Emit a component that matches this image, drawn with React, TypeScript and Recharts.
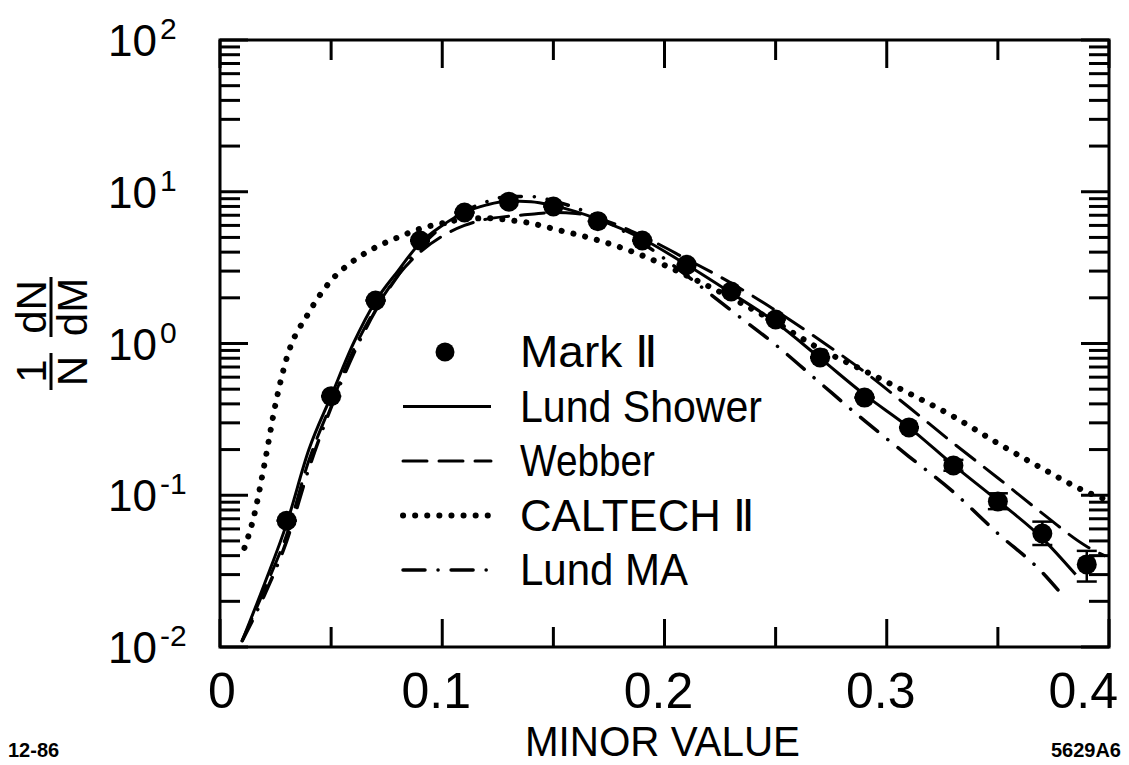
import React from "react";
import { ComposedChart, Line, Scatter, ErrorBar, XAxis, YAxis, ReferenceArea, Legend } from "recharts";

const FONT = "'Liberation Sans', Arial, sans-serif";
const PLOT_W = 889;
const PLOT_H = 607;

// Mark II measurements
const markX = [0.03, 0.05, 0.07, 0.09, 0.11, 0.13, 0.15, 0.17, 0.19, 0.21, 0.23, 0.25, 0.27, 0.29, 0.31, 0.33, 0.35, 0.37, 0.39];
const markY = [0.068, 0.45, 1.92, 4.77, 7.3, 8.6, 8.0, 6.4, 4.77, 3.3, 2.2, 1.44, 0.81, 0.44, 0.28, 0.157, 0.091, 0.056, 0.035];
const markErrLow = [0, 0, 0, 0, 0, 0, 0, 0, 0, 0, 0, 0, 0, 0, 0, 0.012, 0.01, 0.009, 0.008];
const markErrHigh = [0, 0, 0, 0, 0, 0, 0, 0, 0, 0, 0, 0, 0, 0, 0, 0.014, 0.012, 0.011, 0.008];

// Lund Shower (solid)
const showerX = [0.01, 0.02, 0.03, 0.04, 0.05, 0.06, 0.07, 0.08, 0.09, 0.1, 0.11, 0.12, 0.13, 0.14, 0.15, 0.17, 0.19, 0.21, 0.23, 0.25, 0.27, 0.29, 0.31, 0.33, 0.35, 0.37, 0.385];
const showerY = [0.011, 0.026, 0.065, 0.2, 0.45, 1.0, 1.9, 3.0, 4.6, 6.0, 7.3, 8.2, 8.7, 8.6, 8.1, 6.6, 4.9, 3.3, 2.15, 1.38, 0.8, 0.46, 0.28, 0.158, 0.092, 0.052, 0.03];

// Webber (dashed)
const webberX = [0.01, 0.02, 0.03, 0.04, 0.05, 0.06, 0.07, 0.08, 0.09, 0.1, 0.11, 0.12, 0.13, 0.14, 0.15, 0.16, 0.17, 0.19, 0.21, 0.23, 0.25, 0.27, 0.29, 0.31, 0.33, 0.35, 0.37, 0.39, 0.398];
const webberY = [0.011, 0.024, 0.055, 0.17, 0.4, 0.9, 1.7, 2.8, 4.0, 5.1, 6.0, 6.6, 6.9, 7.1, 7.3, 7.2, 6.7, 5.1, 3.6, 2.5, 1.65, 1.05, 0.65, 0.38, 0.22, 0.13, 0.076, 0.046, 0.04];

// CALTECH II (dotted)
const caltechX = [0.011, 0.015, 0.02, 0.025, 0.03, 0.04, 0.05, 0.06, 0.07, 0.08, 0.09, 0.1, 0.11, 0.12, 0.13, 0.14, 0.15, 0.17, 0.19, 0.21, 0.23, 0.25, 0.27, 0.29, 0.31, 0.33, 0.35, 0.37, 0.39, 0.4];
const caltechY = [0.045, 0.07, 0.16, 0.4, 0.8, 1.6, 2.6, 3.5, 4.3, 5.0, 5.7, 6.2, 6.6, 6.7, 6.5, 6.2, 5.7, 4.8, 3.8, 2.8, 2.0, 1.38, 0.92, 0.66, 0.47, 0.33, 0.22, 0.15, 0.105, 0.092];

// Lund MA (dash-dot)
const lundMaX = [0.01, 0.02, 0.03, 0.04, 0.05, 0.06, 0.07, 0.08, 0.09, 0.1, 0.11, 0.12, 0.13, 0.14, 0.15, 0.17, 0.19, 0.21, 0.23, 0.25, 0.27, 0.29, 0.31, 0.33, 0.35, 0.37, 0.379];
const lundMaY = [0.011, 0.022, 0.05, 0.15, 0.38, 0.85, 1.65, 2.8, 4.3, 5.9, 7.4, 8.6, 9.3, 9.3, 8.7, 6.8, 4.6, 2.8, 1.65, 0.98, 0.55, 0.31, 0.18, 0.105, 0.056, 0.031, 0.022];

const xTicks = [0, 0.05, 0.1, 0.15, 0.2, 0.25, 0.3, 0.35, 0.4];
const xLabels = ["0", "0.1", "0.2", "0.3", "0.4"];
const yDecades = [0.01, 0.1, 1, 10, 100];
const yMinorSteps = [2, 3, 4, 5, 6, 7, 8, 9];

const yTicks: number[] = [];
yDecades.forEach((d, i) => {
  yTicks.push(d);
  if (i < yDecades.length - 1) yMinorSteps.forEach((m) => yTicks.push(+(d * m).toPrecision(3)));
});

const toPoints = (xs: number[], ys: number[]) => xs.map((x, i) => ({ x, y: ys[i] }));
const markData = markX.map((x, i) => ({ x, y: markY[i], err: [markErrLow[i], markErrHigh[i]] }));
const showerData = toPoints(showerX, showerY);
const webberData = toPoints(webberX, webberY);
const caltechData = toPoints(caltechX, caltechY);
const lundMaData = toPoints(lundMaX, lundMaY);

const series = [
  { name: "Lund Shower", dash: undefined as string | undefined, width: 3 },
  { name: "Webber", dash: "24 12", width: 3 },
  { name: "CALTECH \u2161", dash: "0.1 12", width: 6 },
  { name: "Lund MA", dash: "22 13 0.1 13", width: 3.5 },
];

function XTick(props: any) {
  const { x, y, payload } = props;
  const v = payload.value as number;
  const major = Math.abs(v * 10 - Math.round(v * 10)) < 1e-6;
  const len = major ? 28 : 20;
  const label = major ? xLabels[Math.round(v * 10)] : null;
  let tx = x - 6;
  let anchor = "middle";
  if (v === 0) tx = x + 2;
  if (v === 0.4) { tx = x + 9; anchor = "end"; }
  return (
    <g>
      <line x1={x} y1={y} x2={x} y2={y - len} stroke="#000" strokeWidth={3} />
      <line x1={x} y1={y - PLOT_H} x2={x} y2={y - PLOT_H + len} stroke="#000" strokeWidth={3} />
      {label && (
        <text x={tx} y={y + 61} textAnchor={anchor} fontFamily={FONT} fontSize={50} fill="#000">
          {label}
        </text>
      )}
    </g>
  );
}

function YTick(props: any) {
  const { x, y, payload } = props;
  const v = payload.value as number;
  const lg = Math.log10(v);
  const major = Math.abs(lg - Math.round(lg)) < 1e-6;
  const len = major ? 28 : 20;
  return (
    <g>
      <line x1={x} y1={y} x2={x + len} y2={y} stroke="#000" strokeWidth={3} />
      <line x1={x + PLOT_W} y1={y} x2={x + PLOT_W - len} y2={y} stroke="#000" strokeWidth={3} />
      {major && (
        <g fontFamily={FONT} fill="#000">
          <text x={157} y={y + 16} textAnchor="end" fontSize={44}>10</text>
          <text x={160} y={y - 1} textAnchor="start" fontSize={30}>{String(Math.round(lg))}</text>
        </g>
      )}
    </g>
  );
}

function YTitle() {
  return (
    <g transform="translate(51, 335) rotate(-90)" fontFamily={FONT} fill="#000">
      <text x={-36} y={-5} textAnchor="middle" fontSize={42}>1</text>
      <line x1={-55} y1={0} x2={-18} y2={0} stroke="#000" strokeWidth={3} />
      <text x={-36} y={36} textAnchor="middle" fontSize={42}>N</text>
      <text x={28} y={-5} textAnchor="middle" fontSize={42}>dN</text>
      <line x1={-2} y1={0} x2={58} y2={0} stroke="#000" strokeWidth={3} />
      <text x={28} y={36} textAnchor="middle" fontSize={42}>dM</text>
    </g>
  );
}

function XTitle() {
  return (
    <g fontFamily={FONT} fill="#000">
      <text x={525} y={756} fontSize={42} textLength={275} lengthAdjust="spacingAndGlyphs">MINOR VALUE</text>
      <text x={8} y={757} fontSize={20} fontWeight="bold">12-86</text>
      <text x={1121} y={757} fontSize={20} fontWeight="bold" textAnchor="end">5629A6</text>
    </g>
  );
}

const legendWidths = [138, 242, 135, 235, 168];

function LegendBox() {
  const rows = ["Mark \u2161", ...series.map((s) => s.name)];
  return (
    <svg width={400} height={300} style={{ display: "block", overflow: "visible" }}>
      {rows.map((name, i) => {
        const cy = 30 + i * 54.5;
        const s = i > 0 ? series[i - 1] : null;
        return (
          <g key={name}>
            {s ? (
              <line x1={13} y1={cy} x2={101} y2={cy} stroke="#000" strokeWidth={s.width} strokeDasharray={s.dash} strokeLinecap={s.dash ? "round" : "butt"} />
            ) : (
              <circle cx={55} cy={cy} r={9.5} fill="#000" />
            )}
            <text x={130} y={cy + 15} fontFamily={FONT} fontSize={44} fill="#000" textLength={legendWidths[i]} lengthAdjust="spacingAndGlyphs">
              {name}
            </text>
          </g>
        );
      })}
    </svg>
  );
}

const lineData = [showerData, webberData, caltechData, lundMaData];

export default function App() {
  return (
    <div style={{ position: "absolute", left: 0, top: 0, background: "#fff" }}>
      <ComposedChart width={1129} height={765} margin={{ top: 40, right: 20, bottom: 0, left: 0 }}>
        <XAxis
          type="number"
          dataKey="x"
          domain={[0, 0.4]}
          ticks={xTicks}
          interval={0}
          height={118}
          tickSize={0}
          tickMargin={0}
          axisLine={false}
          tickLine={false}
          tick={XTick}
          allowDataOverflow
          label={{ content: XTitle }}
        />
        <YAxis
          type="number"
          scale="log"
          domain={[0.01, 100]}
          ticks={yTicks}
          interval={0}
          width={220}
          tickSize={0}
          tickMargin={0}
          axisLine={false}
          tickLine={false}
          tick={YTick}
          allowDataOverflow
          label={{ content: YTitle }}
        />
        <ReferenceArea x1={0} x2={0.4} y1={0.01} y2={100} fill="none" stroke="#000" strokeWidth={3} />
        {series.map((s, i) => (
          <Line
            key={s.name}
            data={lineData[i]}
            dataKey="y"
            type="monotone"
            stroke="#000"
            strokeWidth={s.width}
            strokeDasharray={s.dash}
            strokeLinecap={s.dash ? "round" : "butt"}
            dot={false}
            activeDot={false}
            isAnimationActive={false}
          />
        ))}
        <Scatter
          data={markData}
          dataKey="y"
          fill="#000"
          isAnimationActive={false}
          shape={(p: any) => <circle cx={p.cx} cy={p.cy} r={10} fill="#000" />}
        >
          <ErrorBar dataKey="err" direction="y" width={10} stroke="#000" strokeWidth={2.5} />
        </Scatter>
        <Legend
          layout="vertical"
          align="center"
          verticalAlign="middle"
          content={LegendBox}
          wrapperStyle={{ position: "absolute", left: 390, top: 322, width: 400, height: 300 }}
        />
      </ComposedChart>
    </div>
  );
}
